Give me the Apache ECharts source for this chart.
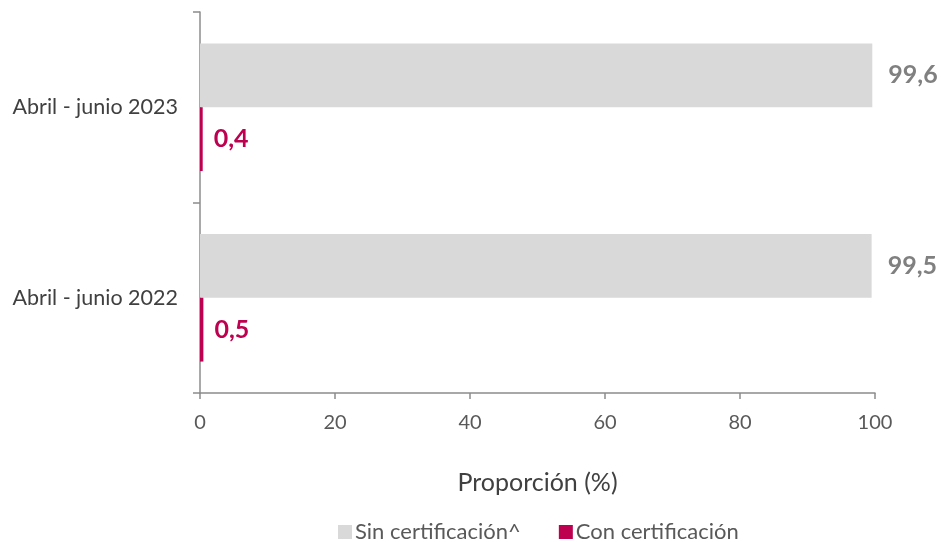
<!DOCTYPE html>
<html><head><meta charset="utf-8">
<script src="https://cdn.jsdelivr.net/npm/echarts@6/dist/echarts.min.js"></script>
<style>html,body{margin:0;padding:0;background:#fff}#c{width:943px;height:542px}</style>
</head><body><div id="c"></div>
<script>
const categories = ['Abril - junio 2022', 'Abril - junio 2023'];
const sinCert = [99.5, 99.6];
const conCert = [0.5, 0.4];
const xTicks = [0, 20, 40, 60, 80, 100];
const FONT = 'Lato';
const chart = echarts.init(document.getElementById('c'));
const fmt = p => String(p.value).replace('.', ',');
chart.setOption({
  animation: false,
  textStyle: { fontFamily: FONT },
  grid: { left: 200, right: 68, top: 12, bottom: 149, containLabel: false },
  legend: {
    data: ['Sin certificación^', 'Con certificación'],
    top: 516, left: 333, itemWidth: 14, itemHeight: 14, itemGap: 38,
    icon: 'rect',
    textStyle: { fontFamily: FONT, fontSize: 22, color: '#595959', padding: [0, 0, 0, -2] }
  },
  xAxis: {
    type: 'value', min: 0, max: 100, interval: 20,
    name: 'Proporción (%)', nameLocation: 'middle', nameGap: 77,
    nameTextStyle: { fontFamily: FONT, fontSize: 25, color: '#404040' },
    axisLine: { show: true, lineStyle: { color: '#8c8c8c', width: 1.5 } },
    axisTick: { show: true, length: 6, lineStyle: { color: '#8c8c8c', width: 1.5 } },
    axisLabel: { fontFamily: FONT, fontSize: 20, color: '#595959', margin: 20,
      formatter: v => xTicks.includes(v) ? String(v) : '' },
    splitLine: { show: false }
  },
  yAxis: {
    type: 'category', data: categories,
    axisLine: { show: true, lineStyle: { color: '#8c8c8c', width: 1.5 } },
    axisTick: { show: true, length: 7, lineStyle: { color: '#8c8c8c', width: 1.5 } },
    axisLabel: { fontFamily: FONT, fontSize: 21.5, color: '#404040', margin: 22 }
  },
  series: [
    {
      name: 'Sin certificación^', type: 'bar', data: sinCert,
      barGap: '0%', barCategoryGap: '33%',
      itemStyle: { color: '#d9d9d9' },
      label: { show: true, position: 'right', distance: 16, formatter: fmt,
        fontFamily: FONT, fontSize: 25, fontWeight: 'bold', color: '#808080' }
    },
    {
      name: 'Con certificación', type: 'bar', data: conCert,
      barGap: '0%', barCategoryGap: '33%',
      itemStyle: { color: '#bd004f' },
      label: { show: true, position: 'right', distance: 11, formatter: fmt,
        fontFamily: FONT, fontSize: 25, fontWeight: 'bold', color: '#bd004f' }
    }
  ]
});
</script></body></html>
